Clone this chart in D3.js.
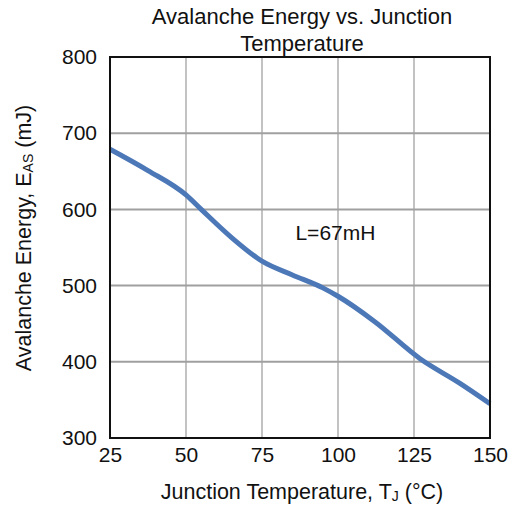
<!DOCTYPE html>
<html>
<head>
<meta charset="utf-8">
<script src="https://cdn.jsdelivr.net/npm/d3@7"></script>
<style>
  body { margin: 0; background: #fff; }
  text { font-family: "Liberation Sans", Arial, sans-serif; fill: #111; }
</style>
</head>
<body>
<svg id="chart" width="519" height="510"></svg>
<script>
// data
const tempC = [25, 37.5, 50, 55, 65, 75, 85, 95, 100, 112, 127, 140, 150]
const energyMJ = [679, 651, 619, 600, 563, 532, 514, 497, 486, 453, 404, 372, 345]
const xTicks = [25, 50, 75, 100, 125, 150]
const yTicks = [300, 400, 500, 600, 700, 800]

const width = 519, height = 510
const marginLeft = 110, marginRight = 29, marginTop = 57, marginBottom = 72

const svg = d3.select('#chart')
const boundWidth = width - marginLeft - marginRight
const boundHeight = height - marginTop - marginBottom

const xScale = d3.scaleLinear().domain([25, 150]).range([0, boundWidth])
const yScale = d3.scaleLinear().domain([300, 800]).range([boundHeight, 0])

// title
svg.append('text')
    .attr('x', 302).attr('y', 24)
    .attr('text-anchor', 'middle')
    .attr('font-size', 22)
    .text('Avalanche Energy vs. Junction')
svg.append('text')
    .attr('x', 302).attr('y', 51)
    .attr('text-anchor', 'middle')
    .attr('font-size', 22)
    .text('Temperature')

const bounds = svg.append('g')
    .attr('transform', `translate(${marginLeft}, ${marginTop})`)

// grid
bounds.append('g')
    .selectAll('line')
    .data(xTicks.slice(1, -1))
    .join('line')
    .attr('x1', d => xScale(d)).attr('x2', d => xScale(d))
    .attr('y1', 0).attr('y2', boundHeight)
    .attr('stroke', '#9a9a9a')
    .attr('stroke-width', 1.2)

bounds.append('g')
    .selectAll('line')
    .data(yTicks.slice(1, -1))
    .join('line')
    .attr('x1', 0).attr('x2', boundWidth)
    .attr('y1', d => yScale(d)).attr('y2', d => yScale(d))
    .attr('stroke', '#a0a0a0')
    .attr('stroke-width', 2)

// axes (labels only, frame drawn separately)
const xAxis = bounds.append('g')
    .attr('transform', `translate(0, ${boundHeight})`)
    .call(d3.axisBottom(xScale).tickValues(xTicks).tickSize(0).tickPadding(9))
xAxis.select('.domain').remove()
xAxis.selectAll('text')
    .attr('font-size', 21)
    .attr('font-family', '"Liberation Sans", Arial, sans-serif')
    .attr('fill', '#111')

const yAxis = bounds.append('g')
    .call(d3.axisLeft(yScale).tickValues(yTicks).tickSize(0).tickPadding(13))
yAxis.select('.domain').remove()
yAxis.selectAll('text')
    .attr('font-size', 21)
    .attr('font-family', '"Liberation Sans", Arial, sans-serif')
    .attr('fill', '#111')

// curve
const line = d3.line()
    .x((d, i) => xScale(tempC[i]))
    .y(d => yScale(d))
    .curve(d3.curveMonotoneX)

bounds.append('path')
    .datum(energyMJ)
    .attr('d', line)
    .attr('fill', 'none')
    .attr('stroke', '#4d78b8')
    .attr('stroke-width', 5)
    .attr('stroke-linecap', 'butt')

// frame
bounds.append('rect')
    .attr('width', boundWidth).attr('height', boundHeight)
    .attr('fill', 'none')
    .attr('stroke', '#111')
    .attr('stroke-width', 2)

// annotation
bounds.append('text')
    .attr('x', xScale(86)).attr('y', yScale(560))
    .attr('font-size', 21)
    .text('L=67mH')

// axis titles
const xTitle = svg.append('text')
    .attr('x', 302).attr('y', 499)
    .attr('text-anchor', 'middle')
    .attr('font-size', 21.5)
xTitle.append('tspan').text('Junction Temperature, T')
xTitle.append('tspan').attr('font-size', 14).attr('dy', 2).text('J')
xTitle.append('tspan').attr('dy', -2).text(' (°C)')

const yTitle = svg.append('text')
    .attr('transform', `translate(31, ${238}) rotate(-90)`)
    .attr('text-anchor', 'middle')
    .attr('font-size', 21.5)
yTitle.append('tspan').text('Avalanche Energy, E')
yTitle.append('tspan').attr('font-size', 14).attr('dy', 2).text('AS')
yTitle.append('tspan').attr('dy', -2).text(' (mJ)')
</script>
</body>
</html>
